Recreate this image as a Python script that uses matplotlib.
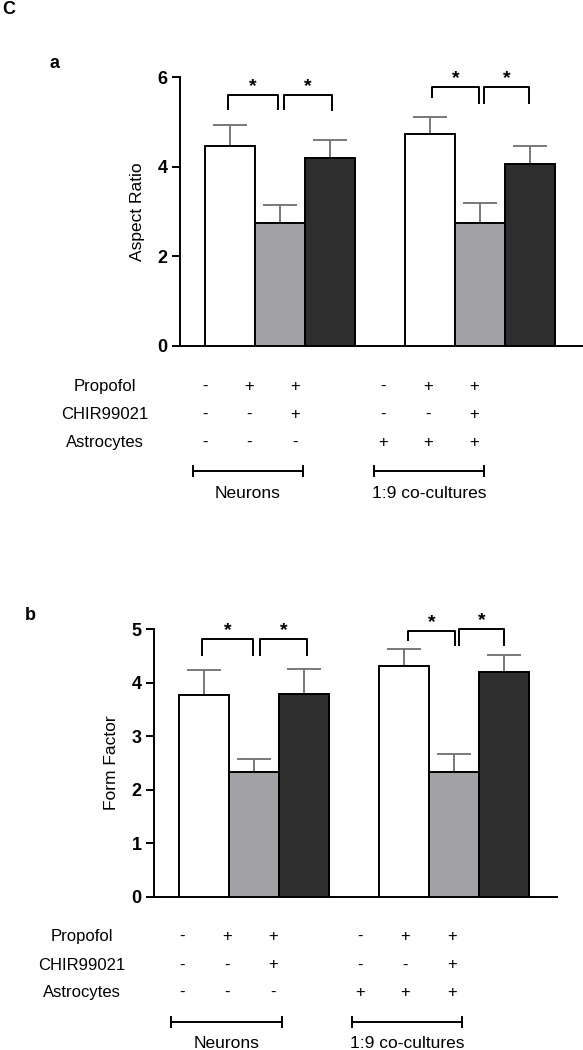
import matplotlib
matplotlib.use("Agg")
import matplotlib.pyplot as plt

plt.rcParams['font.family'] = ['Liberation Sans', 'DejaVu Sans']

# data
positions = [1, 2, 3, 5, 6, 7]
aspect_ratio = [4.46, 2.74, 4.19, 4.73, 2.74, 4.06]
aspect_err = [0.47, 0.41, 0.41, 0.37, 0.46, 0.40]
form_factor = [3.76, 2.32, 3.78, 4.30, 2.32, 4.19]
form_err = [0.48, 0.25, 0.47, 0.32, 0.35, 0.33]
bar_colors = ['white', '#a2a2a6', '#2e2e2e'] * 2

row_labels = ['Propofol', 'CHIR99021', 'Astrocytes']
propofol = ['-', '+', '+', '-', '+', '+']
chir = ['-', '-', '+', '-', '-', '+']
astro = ['-', '-', '-', '+', '+', '+']
group_names = ['Neurons', '1:9 co-cultures']

W, H = 583, 1050
fig = plt.figure(figsize=(W / 100, H / 100), dpi=100)


def fx(px):
    return px / W


def fy(py):
    return 1 - py / H


def draw_panel(rect, vals, errs, ylim, yticks, ylabel, brackets):
    ax = fig.add_axes(rect)
    ax.bar(positions, vals, width=1.0, color=bar_colors, edgecolor='black',
           linewidth=1.4, zorder=3)
    ax.errorbar(positions, vals, yerr=[[0] * 6, errs], fmt='none',
                ecolor='#6e6e6e', elinewidth=1.3, capsize=12, capthick=1.3,
                zorder=2)
    ax.set_xlim(0, 8.06)
    ax.set_ylim(*ylim)
    ax.set_yticks(yticks)
    ax.set_xticks([])
    for s in ['top', 'right']:
        ax.spines[s].set_visible(False)
    for s in ['left', 'bottom']:
        ax.spines[s].set_linewidth(1.4)
    ax.tick_params(axis='y', length=6, width=1.4, labelsize=13, pad=3)
    for t in ax.get_yticklabels():
        t.set_fontweight('bold')
    ax.set_ylabel(ylabel, fontsize=12.5, labelpad=9)
    for x0, x1, top, d0, d1 in brackets:
        ax.plot([x0, x0, x1, x1], [d0, top, top, d1], color='black',
                lw=1.4, clip_on=False, zorder=4)
        ax.text((x0 + x1) / 2, top, '*', ha='center', va='bottom',
                fontsize=14, fontweight='bold', clip_on=False)
    return ax


def draw_table(label_x, sign_x, row_y, bar_y, bar_spans, name_y):
    rows = [propofol, chir, astro]
    for lbl, signs, y in zip(row_labels, rows, row_y):
        fig.text(fx(label_x), fy(y), lbl, ha='center', va='center', fontsize=12)
        for s, x in zip(signs, sign_x):
            fig.text(fx(x), fy(y), s, ha='center', va='center', fontsize=12)
    for (x0, x1), name in zip(bar_spans, group_names):
        fig.lines.append(plt.Line2D([fx(x0), fx(x1)], [fy(bar_y), fy(bar_y)],
                                    transform=fig.transFigure, color='black', lw=1.4))
        for x in (x0, x1):
            fig.lines.append(plt.Line2D([fx(x), fx(x)], [fy(bar_y - 5), fy(bar_y + 5)],
                                        transform=fig.transFigure, color='black', lw=1.4))
        fig.text(fx((x0 + x1) / 2), fy(name_y), name, ha='center', va='center',
                 fontsize=12.5)


fig.text(fx(2), fy(9), 'C', fontsize=13, fontweight='bold', va='center')
fig.text(fx(50), fy(63), 'a', fontsize=13, fontweight='bold', va='center')
fig.text(fx(25), fy(615), 'b', fontsize=13, fontweight='bold', va='center')

draw_panel([fx(180), fy(346), fx(583) - fx(180), (346 - 77) / H],
           aspect_ratio, aspect_err, (0, 6), [0, 2, 4, 6], 'Aspect Ratio',
           [(0.96, 1.96, 5.6, 5.28, 5.28), (2.08, 3.04, 5.6, 5.28, 5.26),
            (5.04, 5.98, 5.77, 5.55, 5.42), (6.08, 6.98, 5.78, 5.43, 5.43)])
draw_table(105, [205, 249, 295, 383, 428, 474], [386, 414, 442], 471,
           [(193, 303), (374, 484)], 494)

draw_panel([fx(154), fy(896.7), fx(557) - fx(154), 267.7 / H],
           form_factor, form_err, (0, 5), [0, 1, 2, 3, 4, 5], 'Form Factor',
           [(0.96, 1.98, 4.81, 4.52, 4.52), (2.12, 3.06, 4.81, 4.52, 4.52),
            (5.08, 6.02, 4.97, 4.8, 4.7), (6.1, 7.0, 5.0, 4.7, 4.7)])
draw_table(82, [182, 227, 273, 360, 405, 452], [936, 965, 992], 1022,
           [(171, 282), (352, 462)], 1044)

fig.savefig('out.png', dpi=100)
